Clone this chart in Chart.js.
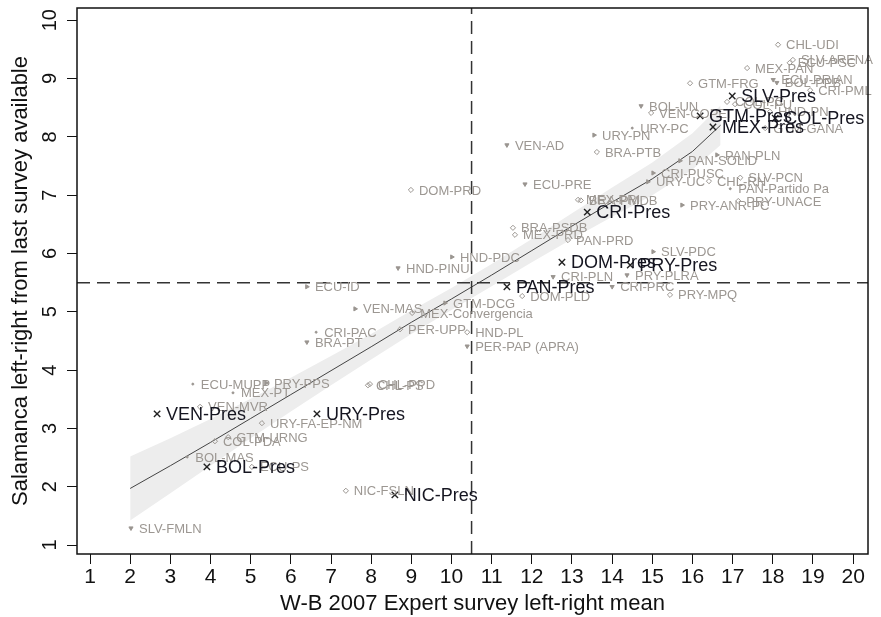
<!DOCTYPE html>
<html><head><meta charset="utf-8">
<script src="https://cdn.jsdelivr.net/npm/chart.js@4/dist/chart.umd.min.js"></script>
<style>html,body{margin:0;padding:0;background:#fff;overflow:hidden}</style>
</head><body>
<canvas id="c" width="881" height="617"></canvas>
<script>
const FONT = "'Liberation Sans', Arial, sans-serif";
const xTicks = [1,2,3,4,5,6,7,8,9,10,11,12,13,14,15,16,17,18,19,20];
const yTicks = [1,2,3,4,5,6,7,8,9,10];
const xMin = 0.676, xMax = 20.37, yMin = 0.846, yMax = 10.21;
const refX = 10.5, refY = 5.5;

const grayNames = ["CHL-UDI","SLV-ARENA","ECU-PSC","MEX-PAN","ECU-PRIAN","BOL-PPB","CRI-PML","GTM-FRG","COL-PC","COL-PU","BOL-UN","VEN-COPEI","HND-PN","GTM-GANA","URY-PC","URY-PN","VEN-AD","BRA-PTB","PAN-PLN","PAN-SOLID","CRI-PUSC","URY-UC","CHL-RN","SLV-PCN","PAN-Partido Pa","ECU-PRE","DOM-PRD","MEX-PRI","BRA-PMDB","PRY-UNACE","PRY-ANR-PC","BRA-PSDB","MEX-PRD","PAN-PRD","SLV-PDC","HND-PDC","HND-PINU","CRI-PLN","PRY-PLRA","CRI-PRC","ECU-ID","DOM-PLD","PRY-MPQ","GTM-DCG","VEN-MAS","MEX-Convergencia","PER-UPP","HND-PL","CRI-PAC","BRA-PT","PER-PAP (APRA)","ECU-MUPP","PRY-PPS","CHL-PS","CHL-PPD","MEX-PT","VEN-MVR","URY-FA-EP-NM","COL-PDA","GTM-URNG","BOL-MAS","ECU-PS","NIC-FSLN","SLV-FMLN"];
const grayX = [18.13,18.50,18.42,17.36,18.01,18.10,18.93,15.94,16.86,17.06,14.72,14.97,17.93,17.81,14.50,13.55,11.38,13.62,16.61,15.69,15.02,14.89,16.41,17.19,16.94,11.83,8.99,13.15,13.22,17.14,15.74,11.53,11.58,12.90,15.02,10.01,8.67,12.53,14.37,14.00,6.40,11.76,15.44,9.84,7.60,9.02,8.72,10.39,6.63,6.40,10.39,3.56,5.38,7.92,7.97,4.56,3.74,5.28,4.11,4.44,3.42,5.03,7.37,2.02];
const grayY = [9.58,9.32,9.27,9.18,8.98,8.93,8.80,8.92,8.60,8.56,8.53,8.41,8.43,8.15,8.15,8.03,7.86,7.74,7.69,7.59,7.38,7.23,7.24,7.30,7.11,7.19,7.09,6.92,6.91,6.90,6.83,6.44,6.32,6.23,6.03,5.94,5.75,5.60,5.63,5.43,5.43,5.27,5.29,5.15,5.05,4.98,4.70,4.65,4.65,4.48,4.41,3.76,3.78,3.74,3.76,3.61,3.37,3.09,2.78,2.85,2.51,2.34,1.93,1.29];
const grayShape = ["d","d","d","d","v","v","d","d","d","d","v","d","d","d",".",">","v","d",">",">",">",">","d","d",".","v","d","d","d","d",">","d","d","d",">",">","v","v","v","v",">","d","d",">",">","d","d","d",".","v","v",".",">","d","d",".","d","d","d","d",".","d","d","v"];

const presNames = ["SLV-Pres","GTM-Pres","COL-Pres","MEX-Pres","CRI-Pres","DOM-Pres","PRY-Pres","PAN-Pres","VEN-Pres","URY-Pres","BOL-Pres","NIC-Pres"];
const presX = [16.99,16.19,18.06,16.51,13.38,12.75,14.45,11.38,2.67,6.65,3.91,8.59];
const presY = [8.70,8.36,8.32,8.17,6.71,5.85,5.80,5.43,3.25,3.25,2.34,1.86];

const lineX = [2,3,4,5,6,7,8,9,10,11,12,13,14,15,16,16.7];
const lineY = [1.97,2.36,2.76,3.17,3.58,3.99,4.40,4.82,5.22,5.63,6.05,6.47,6.88,7.28,7.75,8.20];
const bandUpper = [2.52,2.83,3.16,3.51,3.87,4.24,4.62,5.02,5.41,5.82,6.25,6.69,7.13,7.56,8.06,8.54];
const bandLower = [1.42,1.89,2.36,2.83,3.29,3.74,4.18,4.62,5.03,5.44,5.85,6.25,6.63,7.00,7.44,7.86];

const shapeStyle = {d:'rectRot', v:'triangle', '>':'triangle', '.':'circle'};
const shapeRot = {d:0, v:180, '>':90, '.':0};
const shapeRad = {d:2.6, v:2.4, '>':2.4, '.':1.0};
const shapeFill = {d:'rgba(255,255,255,0)', v:'#9a9590', '>':'#9a9590', '.':'#9a9590'};

const labelPlugin = {
  id:'labels',
  afterDatasetsDraw(chart){
    const ctx = chart.ctx;
    ctx.save();
    ctx.textBaseline = 'middle';
    ctx.textAlign = 'left';
    const mg = chart.getDatasetMeta(5);
    ctx.font = "13px " + FONT;
    ctx.fillStyle = '#9c9792';
    mg.data.forEach((el,i)=>{ ctx.fillText(grayNames[i], el.x + 8, el.y + 1); });
    const mp = chart.getDatasetMeta(6);
    ctx.font = "18px " + FONT;
    ctx.fillStyle = '#151520';
    mp.data.forEach((el,i)=>{ ctx.fillText(presNames[i], el.x + 9, el.y + 1); });
    ctx.restore();
  },
  afterDraw(chart){
    const ctx = chart.ctx, a = chart.chartArea, ys = chart.scales.y;
    ctx.save();
    ctx.strokeStyle = '#111'; ctx.lineWidth = 1.5;
    ctx.strokeRect(a.left, a.top, a.right - a.left, a.bottom - a.top);
    ctx.fillStyle = '#111';
    ctx.font = "20px " + FONT;
    ctx.textAlign = 'center'; ctx.textBaseline = 'middle';
    yTicks.forEach(v=>{
      const py = ys.getPixelForValue(v);
      ctx.save(); ctx.translate(a.left - 27, py); ctx.rotate(-Math.PI/2);
      ctx.fillText(String(v), 0, 0); ctx.restore();
    });
    ctx.restore();
  }
};

new Chart(document.getElementById('c'), {
  type:'scatter',
  data:{ datasets:[
    { order:10, data: lineX.map((x,i)=>({x, y:bandUpper[i]})), showLine:true, borderWidth:0, borderColor:'rgba(0,0,0,0)', pointRadius:0, fill:false },
    { order:9, data: lineX.map((x,i)=>({x, y:bandLower[i]})), showLine:true, borderWidth:0, borderColor:'rgba(0,0,0,0)', pointRadius:0, fill:'-1', backgroundColor:'#ededed' },
    { order:5, data: lineX.map((x,i)=>({x, y:lineY[i]})), showLine:true, borderWidth:1, borderColor:'#444', pointRadius:0, fill:false },
    { order:4, data: [{x:refX, y:yMin},{x:refX, y:yMax}], showLine:true, borderWidth:1.5, borderColor:'#333', borderDash:[13,7], pointRadius:0, fill:false },
    { order:4, data: [{x:xMin, y:refY},{x:xMax, y:refY}], showLine:true, borderWidth:1.5, borderColor:'#333', borderDash:[13,7], pointRadius:0, fill:false },
    { order:2, data: grayX.map((x,i)=>({x, y:grayY[i]})), pointStyle: grayShape.map(s=>shapeStyle[s]), rotation: grayShape.map(s=>shapeRot[s]), pointRadius: grayShape.map(s=>shapeRad[s]), backgroundColor: grayShape.map(s=>shapeFill[s]), borderColor:'#9a9590', borderWidth:1 },
    { order:1, data: presX.map((x,i)=>({x, y:presY[i]})), pointStyle:'crossRot', pointRadius:4.5, borderColor:'#222', borderWidth:1.4 }
  ]},
  options:{
    responsive:false, animation:false, devicePixelRatio:1,
    layout:{ padding:{ top:8, right:13, left:0, bottom:0 } },
    plugins:{ legend:{display:false}, tooltip:{enabled:false} },
    scales:{
      x:{ type:'linear', min:xMin, max:xMax,
        afterBuildTicks: s => { s.ticks = xTicks.map(v=>({value:v})); },
        afterFit: s => { s.height = 63; },
        grid:{ drawOnChartArea:false, drawTicks:true, tickLength:10, color:'#111', lineWidth:1 },
        border:{ display:false },
        ticks:{ font:{ family:FONT, size:21 }, color:'#111', padding:1, maxRotation:0, minRotation:0, autoSkip:false },
        title:{ display:true, text:'W-B 2007 Expert survey left-right mean', color:'#111', font:{ family:FONT, size:22 }, padding:{ top:0, bottom:0 } }
      },
      y:{ type:'linear', min:yMin, max:yMax,
        afterBuildTicks: s => { s.ticks = yTicks.map(v=>({value:v})); },
        afterFit: s => { s.width = 77; },
        grid:{ drawOnChartArea:false, drawTicks:true, tickLength:10, color:'#111', lineWidth:1 },
        border:{ display:false },
        ticks:{ display:false },
        title:{ display:true, text:'Salamanca left-right from last survey available', color:'#111', font:{ family:FONT, size:22 }, padding:{ top:8, bottom:0 } }
      }
    }
  },
  plugins:[labelPlugin]
});
</script>
</body></html>
